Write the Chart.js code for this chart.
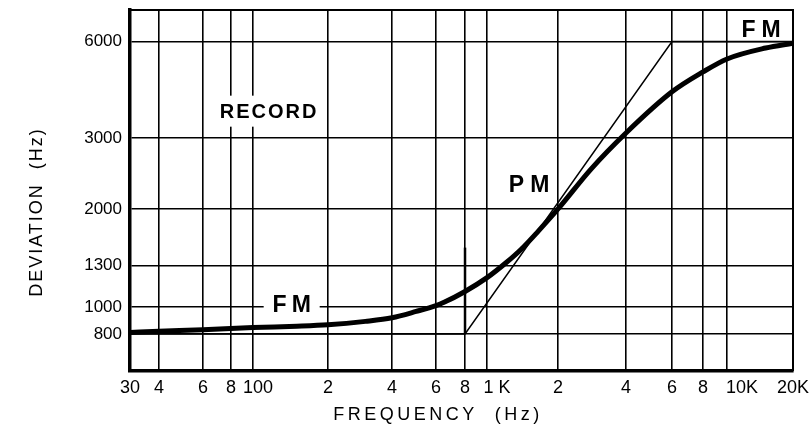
<!DOCTYPE html>
<html>
<head>
<meta charset="utf-8">
<script src="https://cdn.jsdelivr.net/npm/chart.js@4.4.1/dist/chart.umd.min.js"></script>
<style>
    html, body { margin: 0; padding: 0; background: #fff; }
    #wrap { width: 811px; height: 441px; }
</style>
</head>
<body>
<div id="wrap"><canvas id="chart" width="811" height="441"></canvas></div>
<script>
// Eixos (escala log nos dois)
const xTickValues = [30, 40, 60, 80, 100, 200, 400, 600, 800, 1000, 2000, 4000, 6000, 8000, 10000, 20000];
const xTickLabels = ['30', '4', '6', '8', '  100', '2', '4', '6', '8', '    1 K', '2', '4', '6', '8', '      10K', '20K'];
const yTickValues = [800, 1000, 1300, 2000, 3000, 6000];
const yTickLabels = ['800', '1000', '1300', '2000', '3000', '6000'];

// Curva FM (grossa)
const fmFreq = [30, 40, 60, 100, 150, 200, 300, 400, 500, 600, 650, 800, 1000, 1200, 1400, 1650, 2000, 2800, 4000, 6000, 8000, 10000, 15000, 20000];
const fmDev = [810, 818, 829, 844, 853, 863, 888, 915, 964, 1009, 1030, 1103, 1204, 1325, 1475, 1690, 2000, 2512, 3110, 4180, 4823, 5294, 5727, 5930];

// Assintota PM (fina)
const pmFreq = [30, 800, 6000, 20000];
const pmDev = [800, 800, 6000, 6000];

// Traco vertical em 800 Hz
const markFreq = [800, 800];
const markDev = [800, 1490];

// Textos dentro do grafico
const noteText = ['RECORD', 'FM', 'PM', 'FM'];
const noteFreq = [115, 143, 1507, 14290];
const noteDev = [3638, 1015, 2294, 6540];

// O papel do grafico original nao e log perfeito: cada eixo e calibrado
// pelas posicoes (fracao do eixo) em que as linhas de grade aparecem.
const axisCalibration = {
    x: {
        values: [30, 40, 60, 80, 100, 200, 400, 600, 800, 1000, 2000, 4000, 6000, 8000, 10000, 20000],
        fracs: [0, 0.0437, 0.1101, 0.1523, 0.1855, 0.2986, 0.3952, 0.4615, 0.5053, 0.5385, 0.6456, 0.7481, 0.8175, 0.8643, 0.9005, 1]
    },
    y: {
        values: [589, 800, 1000, 1300, 2000, 3000, 6000, 7525],
        fracs: [0, 0.1025, 0.1773, 0.2922, 0.4488, 0.6454, 0.9127, 1]
    }
};

class PaperLogScale extends Chart.LogarithmicScale {
    static id = 'paperLog';

    _decimalFor(value) {
        const cal = axisCalibration[this.id];
        const lv = Math.log10(value);
        let i = 0;
        while (i < cal.values.length - 2 && lv > Math.log10(cal.values[i + 1])) i++;
        const la = Math.log10(cal.values[i]);
        const lb = Math.log10(cal.values[i + 1]);
        return cal.fracs[i] + (lv - la) / (lb - la) * (cal.fracs[i + 1] - cal.fracs[i]);
    }

    getPixelForValue(value) {
        if (value === undefined || value === 0) value = this.min;
        if (value === null || isNaN(value)) return NaN;
        return this.getPixelForDecimal(this._decimalFor(value));
    }

    getValueForPixel(pixel) {
        const cal = axisCalibration[this.id];
        const d = this.getDecimalForPixel(pixel);
        let i = 0;
        while (i < cal.fracs.length - 2 && d > cal.fracs[i + 1]) i++;
        const la = Math.log10(cal.values[i]);
        const lb = Math.log10(cal.values[i + 1]);
        const t = (d - cal.fracs[i]) / (cal.fracs[i + 1] - cal.fracs[i]);
        return Math.pow(10, la + t * (lb - la));
    }
}
Chart.register(PaperLogScale);

const toPoints = (xs, ys) => xs.map((x, i) => ({ x: x, y: ys[i] }));

const noteStyle = [
    { font: 'bold 20px "Liberation Sans", Arial, sans-serif', spacing: 2, boxW: 110, boxH: 31 },
    { font: 'bold 23px "Liberation Sans", Arial, sans-serif', spacing: 5, boxW: 56, boxH: 22 },
    { font: 'bold 23px "Liberation Sans", Arial, sans-serif', spacing: 6, boxW: 50, boxH: 24 },
    { font: 'bold 23px "Liberation Sans", Arial, sans-serif', spacing: 6, boxW: 0, boxH: 0 }
];

const framePlugin = {
    id: 'frame',
    afterDatasetsDraw(chart) {
        const { ctx, chartArea: a } = chart;
        ctx.save();
        ctx.strokeStyle = '#000';
        ctx.lineWidth = 2;
        ctx.beginPath();
        ctx.moveTo(a.left, a.top);
        ctx.lineTo(a.right, a.top);
        ctx.lineTo(a.right, a.bottom);
        ctx.stroke();
        ctx.restore();
    }
};

const notesPlugin = {
    id: 'notes',
    afterDraw(chart) {
        const { ctx } = chart;
        const xs = chart.scales.x;
        const ys = chart.scales.y;
        ctx.save();
        ctx.textAlign = 'center';
        ctx.textBaseline = 'middle';
        noteText.forEach((txt, i) => {
            const st = noteStyle[i];
            const px = xs.getPixelForValue(noteFreq[i]);
            const py = ys.getPixelForValue(noteDev[i]);
            if (st.boxW) {
                ctx.fillStyle = '#fff';
                ctx.fillRect(px - st.boxW / 2, py - st.boxH / 2, st.boxW, st.boxH);
            }
            ctx.font = st.font;
            ctx.letterSpacing = st.spacing + 'px';
            ctx.fillStyle = '#000';
            ctx.fillText(txt, px + st.spacing / 2, py + 1);
        });

        // titulos dos eixos
        ctx.font = '18px "Liberation Sans", Arial, sans-serif';
        ctx.letterSpacing = '3.5px';
        ctx.fillText('FREQUENCY  (Hz)', 438, 415);
        ctx.letterSpacing = '2px';
        ctx.translate(37, 212);
        ctx.rotate(-Math.PI / 2);
        ctx.fillText('DEVIATION  (Hz)', 0, 0);
        ctx.restore();
    }
};

const chart = new Chart(document.getElementById('chart'), {
    type: 'scatter',
    data: {
        datasets: [
            {
                data: toPoints(fmFreq, fmDev),
                showLine: true,
                borderColor: '#000',
                borderWidth: 5,
                pointRadius: 0,
                cubicInterpolationMode: 'monotone'
            },
            {
                data: toPoints(pmFreq, pmDev),
                showLine: true,
                borderColor: '#000',
                borderWidth: 1.5,
                pointRadius: 0,
                tension: 0
            },
            {
                data: toPoints(markFreq, markDev),
                showLine: true,
                borderColor: '#000',
                borderWidth: 2.5,
                pointRadius: 0
            }
        ]
    },
    options: {
        responsive: false,
        animation: false,
        layout: { padding: { top: 10, right: 18, left: 0, bottom: 0 } },
        plugins: { legend: { display: false }, tooltip: { enabled: false } },
        scales: {
            x: {
                type: 'paperLog',
                min: 30,
                max: 20000,
                afterBuildTicks: (s) => { s.ticks = xTickValues.map(v => ({ value: v })); },
                afterFit: (s) => { s.height = 70; s.paddingLeft = 0; s.paddingRight = 0; },
                ticks: {
                    autoSkip: false,
                    maxRotation: 0,
                    padding: 6,
                    color: '#000',
                    font: { family: '"Liberation Sans Narrow", "Liberation Sans", Arial', size: 18 },
                    callback: (v, i) => xTickLabels[i]
                },
                grid: { color: '#000', lineWidth: 1.6, drawTicks: false },
                border: { color: '#000', width: 3.5 }
            },
            y: {
                type: 'paperLog',
                min: 589,
                max: 7525,
                afterBuildTicks: (s) => { s.ticks = yTickValues.map(v => ({ value: v })); },
                afterFit: (s) => { s.width = 130; s.paddingTop = 0; s.paddingBottom = 0; },
                ticks: {
                    autoSkip: false,
                    padding: 8,
                    color: '#000',
                    font: { family: '"Liberation Sans", Arial', size: 17 },
                    callback: (v, i) => yTickLabels[i]
                },
                grid: { color: '#000', lineWidth: 1.6, drawTicks: false },
                border: { color: '#000', width: 3.5 }
            }
        }
    },
    plugins: [framePlugin, notesPlugin]
});
</script>
</body>
</html>
